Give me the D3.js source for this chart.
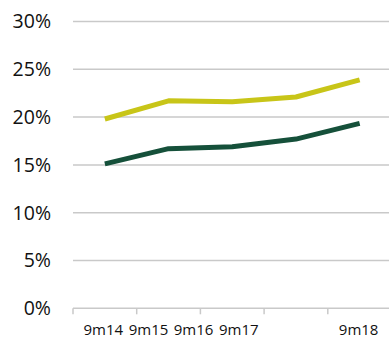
<!DOCTYPE html>
<html>
<head>
<meta charset="utf-8">
<script src="https://cdn.jsdelivr.net/npm/d3@7"></script>
<style>
  html, body { margin: 0; padding: 0; background: #fff; }
  svg { display: block; }
  .ytick text { font-family: "Open Sans", sans-serif; font-size: 19.5px; fill: #111; }
  .xtick text { font-family: "Open Sans", sans-serif; font-size: 15px; fill: #111; }
</style>
</head>
<body>
<svg id="chart" width="389" height="340"></svg>
<script>
// Periods on the x axis
const periods = ["9m14", "9m15", "9m16", "9m17", "9m18"];
// Two ratio series, in percent
const upperSeries = [19.8, 21.7, 21.6, 22.1, 23.9];
const lowerSeries = [15.1, 16.7, 16.9, 17.7, 19.35];
// Y axis ticks, in percent
const yTicks = [0, 5, 10, 15, 20, 25, 30];

const svg = d3.select("#chart");
const plotLeft = 73, plotRight = 391.5, plotTop = 21.5, plotBottom = 308.3;

const x = d3.scaleBand().domain(periods).range([plotLeft, plotRight]).paddingInner(0).paddingOuter(0);
const y = d3.scaleLinear().domain([0, 30]).range([plotBottom, plotTop]);

// Horizontal gridlines
svg.append("g")
  .selectAll("line")
  .data(yTicks.filter(d => d > 0))
  .join("line")
  .attr("x1", plotLeft).attr("x2", 389)
  .attr("y1", d => y(d)).attr("y2", d => y(d))
  .attr("stroke", "#c9c9c9").attr("stroke-width", 1.5);

// Y labels
const yg = svg.append("g").attr("class", "ytick");
yg.selectAll("text")
  .data(yTicks)
  .join("text")
  .attr("x", 51)
  .attr("y", d => y(d))
  .attr("dy", "0.35em")
  .attr("text-anchor", "end")
  .text(d => d + "%");

// Baseline with category tick marks
const xAxis = d3.axisBottom(x).tickSize(6).tickSizeOuter(0).tickFormat(d => d);
const xg = svg.append("g").attr("class", "xtick")
  .attr("transform", `translate(0,${plotBottom})`)
  .call(xAxis);
xg.select(".domain").attr("stroke", "#c9c9c9").attr("stroke-width", 1.5)
  .attr("d", `M${plotLeft},0H389`);
// tick marks sit on band boundaries
xg.selectAll(".tick").attr("transform", d => `translate(${x(d)},0)`);
xg.selectAll(".tick line").attr("stroke", "#c9c9c9").attr("stroke-width", 1.5);

// Tick labels: first four run on one after another from the first band,
// the last sits under its own band
const labels = xg.selectAll(".tick text")
  .attr("y", 27.2).attr("dy", null)
  .attr("text-anchor", "middle");
let cursor = null;
labels.each(function(d, i) {
  const t = d3.select(this);
  const w = this.getComputedTextLength();
  let cx;
  if (i === periods.length - 1) {
    cx = x.bandwidth() / 2 - 1;
  } else if (i === 0) {
    cx = x.bandwidth() / 2 - 1.5;
    cursor = x(d) + cx + w / 2;
  } else {
    const abs = cursor + 5.5 + w / 2;
    cx = abs - x(d);
    cursor = abs + w / 2;
  }
  t.attr("x", cx);
});

// Series lines through band centres
const line = d3.line()
  .x((d, i) => x(periods[i]) + x.bandwidth() / 2)
  .y(d => y(d));

svg.append("path")
  .datum(upperSeries)
  .attr("d", line)
  .attr("fill", "none")
  .attr("stroke", "#c8c518")
  .attr("stroke-width", 5)
  .attr("stroke-linejoin", "round");

svg.append("path")
  .datum(lowerSeries)
  .attr("d", line)
  .attr("fill", "none")
  .attr("stroke", "#15503a")
  .attr("stroke-width", 5)
  .attr("stroke-linejoin", "round");
</script>
</body>
</html>
